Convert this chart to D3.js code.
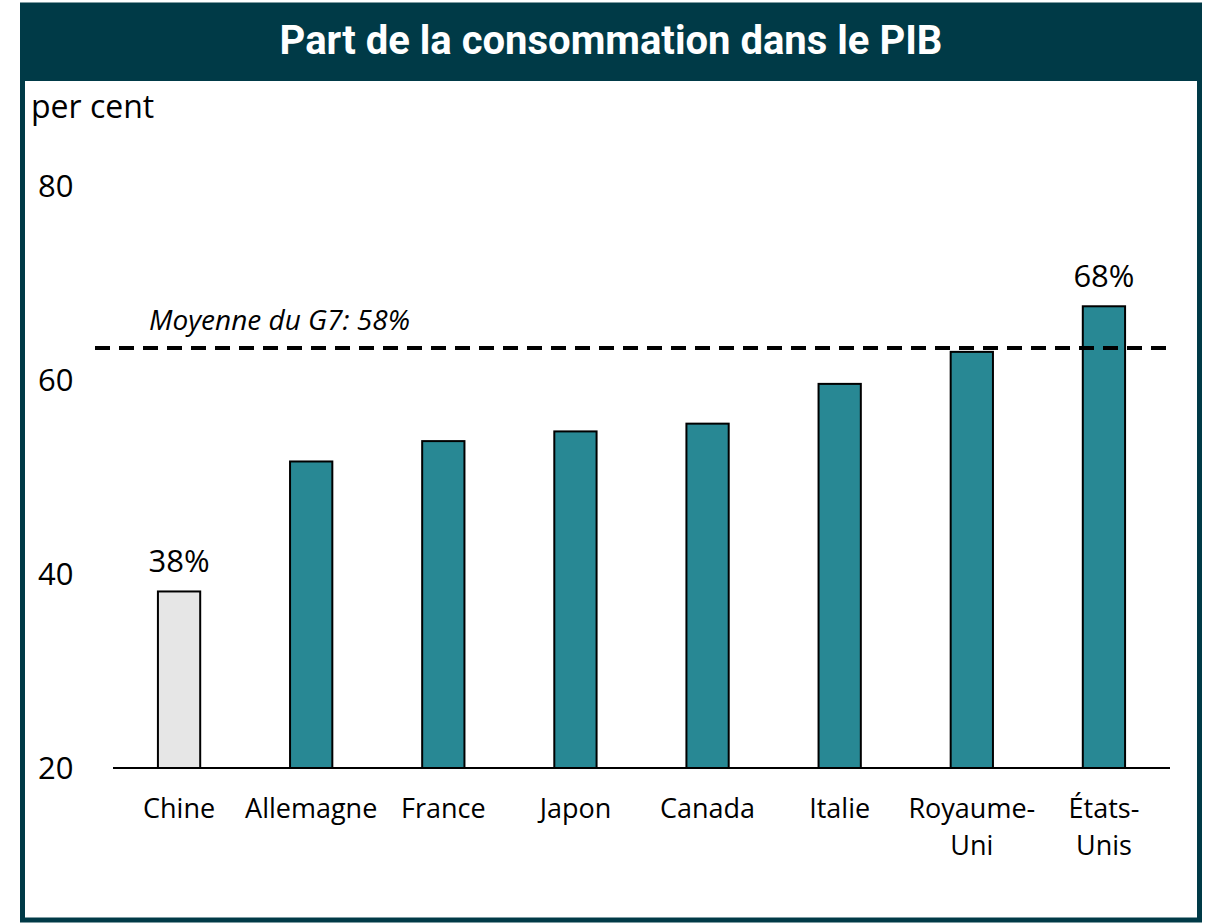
<!DOCTYPE html>
<html>
<head>
<meta charset="utf-8">
<script src="https://cdn.jsdelivr.net/npm/d3@7"></script>
<style>
  body { margin: 0; background: #fff; }
  svg { display: block; }
</style>
</head>
<body>
<svg id="chart"></svg>
<script>
// data
var countries = ["Chine", "Allemagne", "France", "Japon", "Canada", "Italie", "Royaume-Uni", "États-Unis"];
var labelLines = [["Chine"], ["Allemagne"], ["France"], ["Japon"], ["Canada"], ["Italie"], ["Royaume-", "Uni"], ["États-", "Unis"]];
var shares = [38.2, 51.6, 53.7, 54.7, 55.5, 59.6, 62.9, 67.6];
var barLabels = {"Chine": "38%", "États-Unis": "68%"};
var avgLine = 63.3;
var avgText = "Moyenne du G7: 58%";
var yTicks = [20, 40, 60, 80];

var W = 1211, H = 923;
var margin = {left: 113, right: 41, top: 186, bottom: 155};

var svg = d3.select("#chart").attr("width", W).attr("height", H);

// frame + title bar
svg.append("rect")
  .attr("x", 22.5).attr("y", 5).attr("width", 1177).attr("height", 915)
  .attr("fill", "#fff").attr("stroke", "#003a47").attr("stroke-width", 5);
svg.append("rect")
  .attr("x", 20).attr("y", 3).attr("width", 1182).attr("height", 78)
  .attr("fill", "#003a47");
svg.append("text")
  .attr("x", 611).attr("y", 54)
  .attr("text-anchor", "middle")
  .attr("fill", "#fff")
  .style("font-family", "Roboto")
  .style("font-weight", "bold")
  .style("font-size", "40px")
  .text("Part de la consommation dans le PIB");

var font = "'Open Sans', 'Noto Sans', sans-serif";

var x = d3.scaleBand()
  .domain(countries)
  .range([margin.left, W - margin.right])
  .paddingInner(0.68)
  .paddingOuter(0.34);

var y = d3.scaleLinear()
  .domain([20, 80])
  .range([H - margin.bottom, margin.top]);

svg.append("text")
  .attr("x", 31).attr("y", 118)
  .style("font-family", font).style("font-size", "32px")
  .attr("fill", "#000")
  .text("per cent");

// y tick labels, no axis line
svg.selectAll(".ytick")
  .data(yTicks)
  .enter().append("text")
  .attr("class", "ytick")
  .attr("x", 38)
  .attr("y", function(d) { return y(d); })
  .attr("dy", "0.35em")
  .style("font-family", font).style("font-size", "31px")
  .text(function(d) { return d; });

// bars
svg.selectAll(".bar")
  .data(countries)
  .enter().append("rect")
  .attr("class", "bar")
  .attr("x", function(d) { return x(d); })
  .attr("width", x.bandwidth())
  .attr("y", function(d, i) { return y(shares[i]); })
  .attr("height", function(d, i) { return y(20) - y(shares[i]); })
  .attr("fill", function(d) { return d === "Chine" ? "#e6e6e6" : "#288894"; })
  .attr("stroke", "#000")
  .attr("stroke-width", 2);

// x axis baseline
svg.append("line")
  .attr("x1", margin.left).attr("x2", W - margin.right)
  .attr("y1", y(20)).attr("y2", y(20))
  .attr("stroke", "#000").attr("stroke-width", 2);

// category labels
var cat = svg.selectAll(".cat")
  .data(countries)
  .enter().append("text")
  .attr("class", "cat")
  .attr("text-anchor", "middle")
  .attr("x", function(d) { return x(d) + x.bandwidth() / 2; })
  .attr("y", 818)
  .style("font-family", font).style("font-size", "27px");
cat.selectAll("tspan")
  .data(function(d, i) { return labelLines[i]; })
  .enter().append("tspan")
  .attr("x", function() { var p = d3.select(this.parentNode).datum(); return x(p) + x.bandwidth() / 2; })
  .attr("dy", function(d, i) { return i === 0 ? 0 : 37; })
  .text(function(d) { return d; });

// value labels
svg.selectAll(".val")
  .data(countries.filter(function(d) { return barLabels[d]; }))
  .enter().append("text")
  .attr("class", "val")
  .attr("text-anchor", "middle")
  .attr("x", function(d) { return x(d) + x.bandwidth() / 2; })
  .attr("y", function(d) { return y(shares[countries.indexOf(d)]) - 19; })
  .style("font-family", font).style("font-size", "31px")
  .text(function(d) { return barLabels[d]; });

// G7 average
svg.append("line")
  .attr("x1", 95).attr("x2", 1170)
  .attr("y1", y(avgLine)).attr("y2", y(avgLine))
  .attr("stroke", "#000").attr("stroke-width", 4)
  .attr("stroke-dasharray", "15,9");
svg.append("text")
  .attr("x", 149).attr("y", y(avgLine) - 18)
  .style("font-family", font).style("font-size", "28px").style("font-style", "italic")
  .text(avgText);
</script>
</body>
</html>
